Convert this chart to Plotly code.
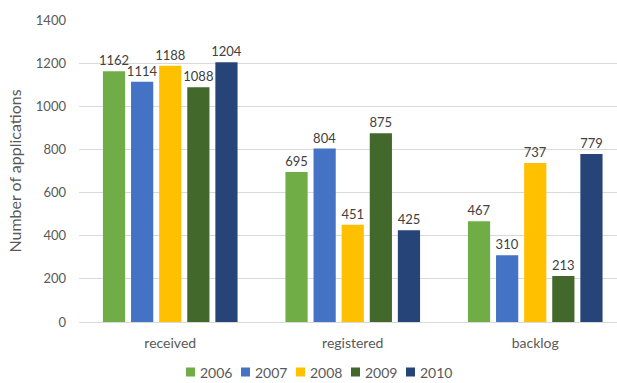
import plotly.graph_objects as go

categories = ["received", "registered", "backlog"]
years = ["2006", "2007", "2008", "2009", "2010"]
values_2006 = [1162, 695, 467]
values_2007 = [1114, 804, 310]
values_2008 = [1188, 451, 737]
values_2009 = [1088, 875, 213]
values_2010 = [1204, 425, 779]
series = [values_2006, values_2007, values_2008, values_2009, values_2010]
colors = ["#70AD47", "#4472C4", "#FFC000", "#43682B", "#264478"]
y_ticks = [0, 200, 400, 600, 800, 1000, 1200, 1400]

W, H = 617, 383
M_L, M_R, M_T, M_B = 79, 0, 20, 61
plot_w = W - M_L - M_R
plot_h = H - M_T - M_B

fig = go.Figure()
for name, vals, col in zip(years, series, colors):
    fig.add_trace(go.Bar(
        x=categories, y=vals, name=name,
        marker=dict(color=col, line=dict(width=0)),
        text=[str(v) for v in vals], textposition="outside",
        textfont=dict(size=13, color="#404040"),
        constraintext="none",
        cliponaxis=False,
        showlegend=False,
    ))

# Compact legend row below the axis: small colour keys hugging their labels
leg_left, leg_pitch, key_size, leg_y = 186, 55, 9, 372
shapes, annotations = [], []
for i, (name, col) in enumerate(zip(years, colors)):
    x0 = leg_left + i * leg_pitch
    shapes.append(dict(
        type="rect", xref="paper", yref="paper", layer="above",
        x0=(x0 - M_L) / plot_w, x1=(x0 + key_size - M_L) / plot_w,
        y0=(H - M_B - (leg_y + key_size / 2)) / plot_h,
        y1=(H - M_B - (leg_y - key_size / 2)) / plot_h,
        fillcolor=col, line=dict(width=0),
    ))
    annotations.append(dict(
        xref="paper", yref="paper", showarrow=False,
        x=(x0 + key_size + 3 - M_L) / plot_w, xanchor="left",
        y=(H - M_B - leg_y) / plot_h, yanchor="middle",
        text=name, font=dict(size=14, color="#595959"),
    ))

fig.update_layout(
    width=W, height=H,
    margin=dict(l=M_L, r=M_R, t=M_T, b=M_B, autoexpand=False),
    paper_bgcolor="white", plot_bgcolor="white",
    font=dict(family="Lato, sans-serif", size=13, color="#595959"),
    barmode="group", bargap=0.23, bargroupgap=0.21,
    showlegend=False,
    shapes=shapes, annotations=annotations,
    xaxis=dict(range=[-0.5, 2.448], showgrid=False, showline=True,
               linecolor="#D9D9D9", linewidth=1, ticks="",
               ticklabelstandoff=8,
               tickfont=dict(size=14, color="#595959")),
    yaxis=dict(range=[0, 1400], tickvals=y_ticks, showgrid=True,
               gridcolor="#D9D9D9", gridwidth=1, zeroline=False,
               ticks="", ticklen=0, ticklabelstandoff=12,
               title=dict(text="Number of applications", font=dict(size=16, color="#595959"),
                          standoff=10),
               tickfont=dict(size=13, color="#595959")),
)

fig.write_html("out.html")
